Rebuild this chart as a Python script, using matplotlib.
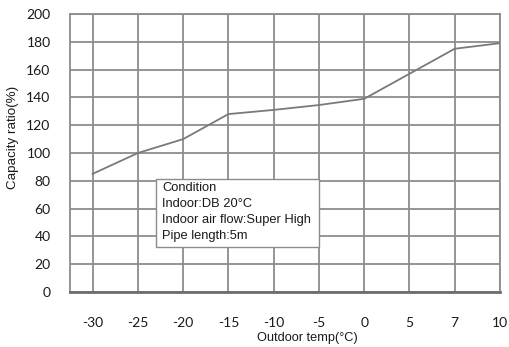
import matplotlib
matplotlib.use("Agg")
import matplotlib.pyplot as plt

temps = ["-30", "-25", "-20", "-15", "-10", "-5", "0", "5", "7", "10"]
capacity = [85, 100, 110, 128, 131, 134.5, 139, 157, 175, 179]
yticks = [0, 20, 40, 60, 80, 100, 120, 140, 160, 180, 200]
condition_lines = ["Condition", "Indoor:DB 20°C", "Indoor air flow:Super High", "Pipe length:5m"]

fig = plt.figure(figsize=(5.09, 3.47), dpi=100)
W, H = 509, 347
ax = fig.add_axes([70 / W, 1 - 292 / H, (500 - 70) / W, (292 - 14) / H])

x = list(range(len(temps)))
ax.plot(x, capacity, color="#7a7a7a", lw=1.3, zorder=3)

ax.set_xlim(-0.5, len(temps) - 1)
ax.set_ylim(0, 200)
ax.set_xticks(x)
ax.set_xticklabels(temps)
ax.set_yticks(yticks)
ax.grid(True, color="#8c8c8c", lw=1.3)
ax.set_axisbelow(True)
for s in ["top", "right", "left"]:
    ax.spines[s].set_color("#8c8c8c")
    ax.spines[s].set_linewidth(1.3)
ax.spines["bottom"].set_color("#6e6e6e")
ax.spines["bottom"].set_linewidth(2.0)
ax.tick_params(length=0, labelsize=10, colors="#1a1a1a")
ax.tick_params(axis="x", pad=18)
ax.tick_params(axis="y", pad=14)
for lab in ax.get_xticklabels() + ax.get_yticklabels():
    lab.set_family("Lato")

fig.text(13 / W, 1 - 137 / H, "Capacity ratio(%)", rotation=90, ha="center", va="center",
         fontsize=9.6, family="Liberation Sans", color="#1a1a1a")
fig.text(307 / W, 1 - 338 / H, "Outdoor temp(°C)", ha="center", va="center",
         fontsize=9.2, family="Liberation Sans", color="#1a1a1a")

# condition box
bx0, by0, bx1, by1 = 156, 179, 319, 247
rect = plt.Rectangle((bx0 / W, 1 - by1 / H), (bx1 - bx0) / W, (by1 - by0) / H,
                     transform=fig.transFigure, facecolor="white", edgecolor="#8c8c8c",
                     lw=1.0, zorder=5)
fig.add_artist(rect)
for i, t in enumerate(condition_lines):
    fig.text(162 / W, 1 - (187.5 + i * 16.3) / H, t, ha="left", va="center",
             fontsize=9.3, family="Liberation Sans", color="#1a1a1a", zorder=6)

fig.savefig("out.png", dpi=100)
